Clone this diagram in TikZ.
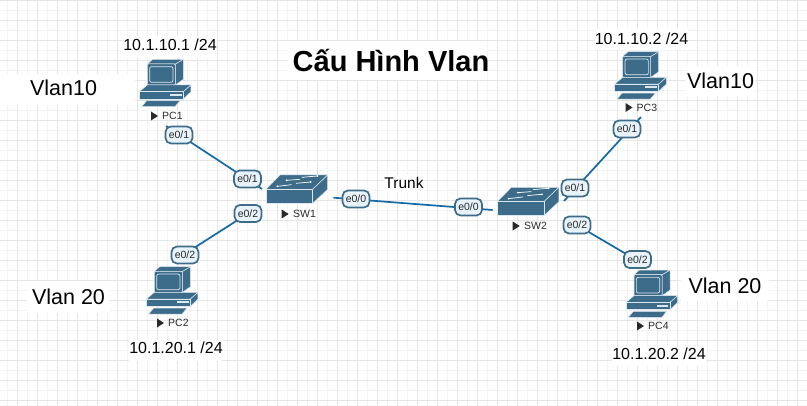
\documentclass[tikz,border=0pt]{standalone}
\usepackage{fontspec}
\setmainfont{Liberation Sans}
\definecolor{dev}{HTML}{3D6C8B}
\definecolor{devedge}{HTML}{DCE8EF}
\definecolor{portline}{HTML}{3D6C8B}
\definecolor{portfill}{HTML}{E8F3FB}
\definecolor{wire}{HTML}{1469A8}
\definecolor{gridA}{HTML}{E6E6E6}
\definecolor{gridB}{HTML}{F3F3F3}
\definecolor{ink}{HTML}{2A2A2A}
\tikzset{
  devface/.style={fill=dev,draw=devedge,line width=0.5pt,line join=round},
  wirelink/.style={draw=wire,line width=1.7pt},
  port/.style={draw=portline,fill=portfill,line width=1.7pt,rounded corners=5.5pt,
    minimum width=27pt,minimum height=17pt,inner sep=0pt,font=\fontsize{10.5}{12}\selectfont,text=ink},
  devlabel/.style={inner sep=0pt,anchor=west,font=\fontsize{10.5}{12}\selectfont,text=ink},
  ipt/.style={inner sep=0pt,font=\fontsize{16}{18}\selectfont,text=black},
  vlant/.style={inner sep=0pt,font=\fontsize{21.5}{24}\selectfont,text=black},
  patch/.style={fill=white,draw=none},
  hole/.style={inner sep=0pt,minimum size=0pt},
  pics/pcicon/.style={code={
    \begin{scope}[x=0.3333pt,y=-0.3333pt]
    % monitor
    \path[devface] (136,42)--(160,28)--(160,88)--(136,105)--cycle;
    \path[devface] (52,42)--(68,28)--(160,28)--(136,42)--cycle;
    \path[devface,rounded corners=1pt] (52,42)--(136,42)--(136,105)--(52,105)--cycle;
    \path[draw=devedge,line width=0.7pt,rounded corners=2pt] (59,50) rectangle (129,97);
    % base
    \path[devface] (28,125)--(52,105)--(183,105)--(160,125)--cycle;
    \path[devface] (160,125)--(183,105)--(183,125)--(160,147)--cycle;
    \path[devface] (28,125)--(160,125)--(160,147)--(28,147)--cycle;
    \path[fill=devedge] (120,132) rectangle (155,138);
    % keyboard
    \path[devface] (50,152)--(150,152)--(135,170)--(35,170)--cycle;
    \end{scope}
  }},
  pics/swicon/.style={code={
    \begin{scope}[x=0.3333pt,y=-0.3333pt]
    \path[devface] (138,118)--(180,75)--(323,75)--(278,118)--cycle;
    \path[devface] (278,118)--(323,75)--(323,118)--(278,160)--cycle;
    \path[devface] (138,118)--(278,118)--(278,160)--(138,160)--cycle;
    \foreach \a/\b/\c/\d in {245/82/292/78, 240/88/200/91, 228/100/272/96, 215/104/172/109}{
      \path[draw=white,line width=0.7pt] (\a,\b)--(\c,\d);
      \path[fill=white] (\c,\d) circle (1pt);
    }
    \end{scope}
  }},
  pics/tri/.style={code={
    \path[fill=ink] (0,-4.5)--(7,0)--(0,4.5)--cycle;
  }}
}
\begin{document}
\begin{tikzpicture}[x=1pt,y=-1pt]
\useasboundingbox (0,0) rectangle (807,406);
\fill[white] (0,0) rectangle (807,406);
% grid
\foreach \g in {7,27,...,807}{\draw[gridB,line width=0.8pt] (\g,0)--(\g,406);}
\foreach \g in {10,30,...,406}{\draw[gridB,line width=0.8pt] (0,\g)--(807,\g);}
\foreach \g in {17,37,...,807}{\draw[gridA,line width=0.8pt] (\g,0)--(\g,406);}
\foreach \g in {0,20,...,406}{\draw[gridA,line width=0.8pt] (0,\g)--(807,\g);}
% white patches behind the texts
\fill[patch] (287,41) rectangle (487,80);
\fill[patch] (0,74) rectangle (135,105);
\fill[patch] (122,36) rectangle (217,58);
\fill[patch] (27,281) rectangle (110,313);
\fill[patch] (129,340) rectangle (222,361);
\fill[patch] (681,272) rectangle (769,301);
\fill[patch] (612,347) rectangle (706,366);
\fill[patch] (384,175) rectangle (425,192);
\fill[patch] (594,29) rectangle (688,50);
\fill[patch] (686,66) rectangle (755,96);
% connector ends
\coordinate (pc1end) at (166,126);
\coordinate (sw1a) at (262,189);
\coordinate (pc2end) at (183,255);
\coordinate (sw1b) at (248,213.5);
\coordinate (sw1c) at (333.5,197.7);
\coordinate (sw2c) at (492.7,210);
\coordinate (sw2a) at (564,201);
\coordinate (pc3end) at (641,117);
\coordinate (sw2b) at (576,224.5);
\coordinate (pc4end) at (638,261);
\draw[wirelink] (pc1end) -- (sw1a);
\draw[wirelink] (pc2end) -- (sw1b);
\draw[wirelink] (sw1c) -- (sw2c);
\draw[wirelink] (sw2a) -- (pc3end);
\draw[wirelink] (sw2b) -- (pc4end);
% devices
\pic at (130,50) {pcicon};
\pic at (137,257.4) {pcicon};
\pic at (605.4,42.4) {pcicon};
\pic at (616.7,260.7) {pcicon};
\pic at (220,150) {swicon};
\pic at (451.3,162.3) {swicon};
% device labels
\pic at (151,116) {tri};
\node[devlabel] (pc1) at (162,116) {PC1};
\pic at (157,323) {tri};
\node[devlabel] (pc2) at (168,323) {PC2};
\pic at (625.5,107.5) {tri};
\node[devlabel] (pc3) at (636.5,107.5) {PC3};
\pic at (637,326) {tri};
\node[devlabel] (pc4) at (648,326) {PC4};
\pic at (281.7,214) {tri};
\node[devlabel] (sw1) at (293,214) {SW1};
\pic at (512.7,226) {tri};
\node[devlabel] (sw2) at (524,226) {SW2};
% ports
\node[port] (p1) at (179,135) {e0/1};
\node[port] (s1a) at (247.5,179) {e0/1};
\node[port] (s1b) at (248,213.5) {e0/2};
\node[port] (p2) at (185,255) {e0/2};
\node[port] (s1c) at (356,199) {e0/0};
\node[port] (s2c) at (468.5,207) {e0/0};
\node[port] (s2a) at (575,188) {e0/1};
\node[port] (s2b) at (577,225) {e0/2};
\node[port] (p3) at (627,129) {e0/1};
\node[port] (p4) at (637.5,259.5) {e0/2};
% texts
\node[inner sep=0pt,font=\bfseries\fontsize{29}{32}\selectfont,text=black] (title) at (391,61) {Cấu Hình Vlan};
\node[vlant] (v1) at (63.5,88) {Vlan10};
\node[vlant] (v2) at (68.5,297) {Vlan 20};
\node[vlant] (v3) at (720.5,81) {Vlan10};
\node[vlant] (v4) at (725,286) {Vlan 20};
\node[ipt] (i1) at (170,45) {10.1.10.1 /24};
\node[ipt] (i2) at (641.5,39) {10.1.10.2 /24};
\node[ipt] (i3) at (176,348) {10.1.20.1 /24};
\node[ipt] (i4) at (659,354) {10.1.20.2 /24};
\node[inner sep=0pt,font=\fontsize{15.5}{18}\selectfont,text=black] (trunk) at (404,183) {Trunk};
\end{tikzpicture}
\end{document}
